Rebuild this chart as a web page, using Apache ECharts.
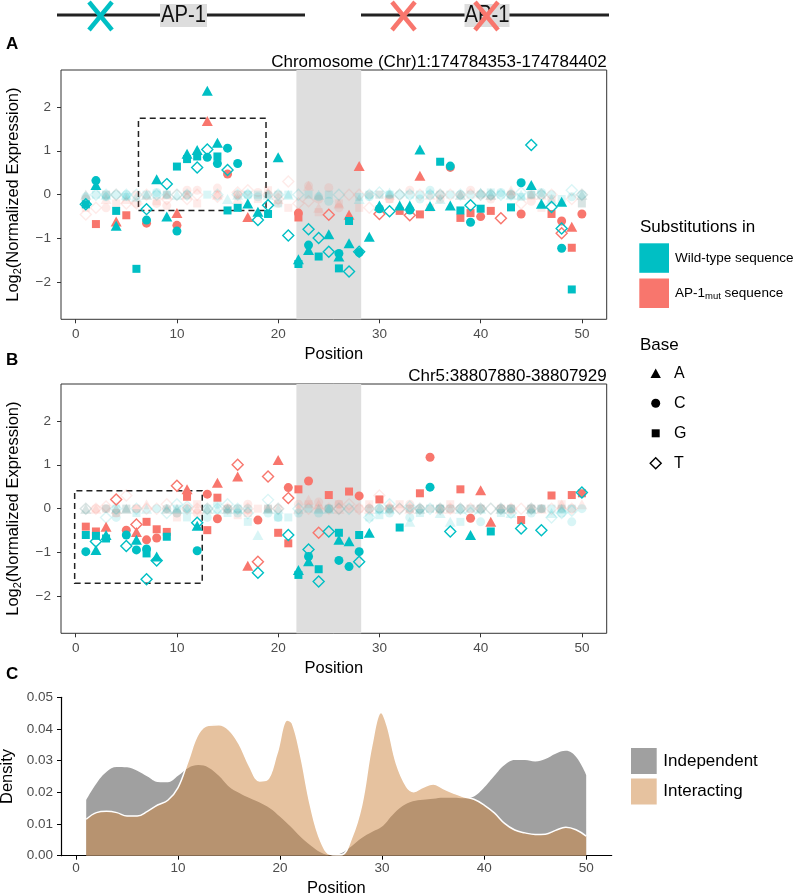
<!DOCTYPE html>
<html><head><meta charset="utf-8">
<script src="https://cdn.jsdelivr.net/npm/echarts@6/dist/echarts.min.js"></script>
<style>html,body{margin:0;padding:0;background:#fff}#c{width:796px;height:896px}</style>
</head><body><div id="c"></div><script>
// ---------- data ----------
const xTicks = [0, 10, 20, 30, 40, 50];
const yTicksExpr = [-2, -1, 0, 1, 2];
const yTicksDensity = [0, 0.01, 0.02, 0.03, 0.04, 0.05];
const ap1Band = [21.8, 28.2];
const boxA = [[6.2, -0.36], [18.8, 1.74]];
const boxB = [[-0.1, -1.7], [12.5, 0.41]];

// Panel A (Chr1) – significant substitutions [position, log2 expression]
const A_WT_A = [[2,0.22],[4,-0.71],[8,0.35],[9,-0.5],[11,0.93],[12,1.02],[13,2.37],[14,1.18],[17,-0.2],[18,-0.39],[20,0.85],[22,-1.47],[23,-1.26],[25,-0.9],[26,-1.41],[27,-1.11],[29,-0.96],[30,-0.25],[32,-0.25],[33,-0.25],[34,1.03],[35,-0.26],[37,-0.25],[45,0.22],[46,-0.21],[48,-0.16]];
const A_WT_C = [[2,0.32],[7,-0.58],[10,-0.83],[13,0.85],[14,0.71],[15,1.06],[16,0.71],[23,-1.15],[26,-1.34],[28,-1.32],[30,-0.32],[33,-0.35],[37,0.65],[39,-0.63],[44,0.27],[48,-1.22]];
const A_WT_G = [[1,-0.22],[4,-0.37],[6,-1.69],[10,0.64],[11,0.81],[12,0.87],[14,0.87],[15,-0.36],[16,-0.3],[19,-0.44],[22,-1.58],[24,-1.41],[26,-1.68],[27,-0.6],[36,0.75],[38,-0.36],[40,-0.32],[43,-0.29],[49,-2.16]];
const A_WT_T = [[1,-0.22],[7,-0.33],[9,0.24],[12,0.62],[13,1.03],[15,0.56],[18,-0.58],[19,-0.24],[21,-0.93],[23,-0.79],[24,-0.99],[25,-1.3],[27,-1.75],[28,-1.3],[31,-0.38],[39,-0.24],[45,1.13],[47,-0.28],[48,-0.77]];
const A_MUT_A = [[4,-0.61],[10,-0.42],[13,1.68],[17,-0.51],[27,-0.46],[28,0.65],[34,0.43],[49,-0.73]];
const A_MUT_C = [[7,-0.65],[10,-0.7],[15,0.47],[22,-0.42],[37,0.62],[40,-0.5],[44,-0.44],[48,-0.6],[50,-0.44]];
const A_MUT_G = [[2,-0.67],[5,-0.47],[22,-0.52],[32,-0.37],[34,-0.45],[38,-0.53],[39,-0.42],[41,-0.37],[47,-0.44],[49,-1.21]];
const A_MUT_T = [[25,-0.46],[30,-0.44],[33,-0.47],[42,-0.54],[48,-0.88]];
// Panel A – non-significant substitutions
const A_WT_A_ns = [[1,0],[3,0],[5,0],[6,-0.05],[7,0],[10,0],[15,-0.1],[16,0],[19,0],[21,0],[24,0],[28,-0.1],[31,0.05],[36,-0.1],[38,0],[40,0.05],[41,0],[43,0],[44,0],[47,-0.1],[50,0]];
const A_WT_C_ns = [[1,-0.05],[3,-0.05],[4,0],[5,0],[8,0.05],[9,0],[11,0],[17,0],[18,-0.05],[19,0],[20,0],[24,-0.05],[25,-0.15],[29,-0.05],[31,0],[32,0],[34,-0.1],[35,0.1],[36,0],[38,0],[40,0],[41,0],[42,0.05],[43,0],[45,0],[46,0.05],[47,0],[49,-0.05],[50,0]];
const A_WT_G_ns = [[2,0],[3,0],[5,-0.05],[7,0],[8,0],[9,0],[13,0],[17,0],[18,0],[20,-0.2],[21,0],[23,0],[25,0],[28,-0.05],[29,0],[30,0],[31,0],[33,0],[34,0],[35,0],[37,0],[39,0],[41,0.05],[42,0],[44,-0.05],[45,0],[46,0],[48,-0.1],[50,-0.2]];
const A_WT_T_ns = [[2,0],[3,0],[4,0],[5,0],[6,0],[8,0],[10,0],[11,0],[14,0],[16,0],[17,0],[20,0],[22,0],[26,0],[29,0],[30,0.05],[32,0],[33,0],[35,0],[36,0],[38,0],[40,0],[41,0],[42,0],[43,0],[44,0.05],[46,0],[49,0.1],[50,0]];
const A_MUT_A_ns = [[1,0],[3,-0.1],[5,-0.1],[7,0],[9,0],[11,0],[14,0],[16,-0.1],[19,0.05],[20,-0.1],[23,0.2],[24,-0.3],[26,-0.2],[31,0],[35,0],[38,0],[41,0],[43,0.1],[45,0],[46,0],[50,0]];
const A_MUT_C_ns = [[1,-0.1],[3,-0.3],[6,-0.2],[8,-0.2],[9,-0.25],[11,0.1],[12,0.1],[14,0.15],[16,0],[18,0.05],[20,-0.2],[23,0.2],[24,-0.1],[25,0.16],[26,-0.3],[29,0],[31,-0.1],[33,0.1],[36,-0.1],[38,0],[39,0.1],[41,-0.1],[43,0],[45,-0.15],[47,-0.1]];
const A_MUT_G_ns = [[1,-0.3],[3,0],[4,-0.2],[6,0],[8,-0.15],[9,0],[11,0],[12,-0.2],[14,0],[16,0],[18,-0.1],[19,0.1],[20,0],[21,-0.3],[24,-0.4],[26,-0.2],[28,-0.3],[30,0],[31,-0.1],[35,-0.3],[36,0],[40,0],[43,0],[45,0],[46,-0.3],[50,-0.2]];
const A_MUT_T_ns = [[1,-0.45],[2,-0.3],[4,0],[5,-0.2],[6,-0.2],[7,0],[9,-0.1],[10,0],[11,-0.1],[12,0],[14,-0.05],[16,0.05],[17,0.1],[19,0],[20,-0.1],[21,0.3],[22,-0.2],[23,-0.15],[27,0],[28,0],[29,-0.3],[32,0],[34,0],[36,0],[37,0],[39,0],[40,0],[41,0],[44,-0.2],[46,0],[47,0],[49,-0.1],[50,0]];

// Panel B (Chr5) – significant substitutions
const B_WT_A = [[2,-0.94],[3,-0.6],[6,-0.71],[8,-1.09],[12,-0.39],[22,-1.4],[23,-1.2],[26,-0.71],[27,-0.74],[29,-0.55],[39,-0.6]];
const B_WT_C = [[1,-0.98],[5,-0.6],[6,-0.94],[7,-0.92],[12,-0.96],[23,-1.09],[26,-1.18],[27,-1.32],[28,-0.98],[35,0.49]];
const B_WT_G = [[1,-0.6],[2,-0.62],[3,-0.68],[7,-1.02],[9,-0.64],[22,-1.51],[24,-1.38],[26,-0.55],[28,-0.6],[32,-0.43],[41,-0.52]];
const B_WT_T = [[2,-0.75],[5,-0.85],[7,-1.61],[8,-1.18],[12,-0.32],[18,-1.46],[21,-0.6],[23,-0.93],[24,-1.66],[25,-0.52],[28,-1.21],[37,-0.52],[44,-0.45],[46,-0.49],[50,0.37]];
const B_MUT_A = [[3,-0.41],[6,-0.53],[11,0.44],[14,0.59],[16,0.73],[17,-1.3],[20,1.11],[40,0.42],[41,-0.3]];
const B_MUT_C = [[5,-0.49],[7,-0.71],[8,-0.67],[13,0.33],[14,-0.23],[18,-0.26],[21,0.48],[23,0.63],[28,0.29],[35,1.17],[39,-0.22]];
const B_MUT_G = [[1,-0.41],[2,-0.52],[7,-0.3],[8,-0.47],[9,-0.53],[11,0.27],[13,-0.49],[14,0.25],[20,-0.55],[21,-0.79],[22,0.44],[25,0.31],[27,0.39],[30,0.21],[34,0.35],[38,0.44],[44,-0.26],[47,0.3],[49,0.31],[50,0.35]];
const B_MUT_T = [[4,0.21],[6,-0.36],[10,0.52],[16,1.0],[18,-1.21],[19,0.73],[21,0.24],[24,-0.55]];
// Panel B – non-significant substitutions
const B_WT_A_ns = [[1,0],[4,0],[5,0],[7,0],[9,0],[10,0],[11,0],[13,0],[14,0],[15,0],[16,0],[18,-0.6],[19,0],[20,0],[24,0],[25,0],[30,0],[31,0],[33,-0.3],[34,0],[36,-0.1],[37,-0.3],[38,0],[40,0],[42,0],[43,-0.1],[45,0],[47,-0.1],[48,0]];
const B_WT_C_ns = [[3,0],[4,-0.2],[8,0],[9,0],[10,-0.1],[11,0],[13,-0.2],[14,0.1],[15,0],[16,-0.1],[17,0],[19,-0.1],[20,-0.2],[22,-0.1],[24,-0.1],[25,0],[29,0],[30,0],[31,-0.1],[33,-0.2],[34,0],[36,0],[38,0],[40,-0.3],[42,0],[43,0],[45,-0.1],[46,0],[48,-0.1],[49,-0.3],[50,0]];
const B_WT_G_ns = [[4,0],[5,0],[6,-0.1],[10,0],[11,-0.2],[13,0],[15,-0.1],[16,0],[17,-0.3],[19,0],[20,-0.2],[21,-0.2],[23,0],[25,0],[29,-0.2],[30,-0.15],[31,0],[33,0],[34,-0.1],[35,0],[36,0],[37,0],[38,-0.3],[39,0],[40,0],[42,-0.1],[43,0],[45,0],[46,0],[47,0],[48,0],[49,0]];
const B_WT_T_ns = [[1,0],[3,-0.2],[4,0],[6,0],[9,-0.1],[10,0.1],[11,0.05],[13,0],[14,0],[15,0.1],[16,0],[17,-0.1],[19,0.2],[20,0],[22,0],[26,0],[27,0],[29,-0.2],[30,0],[31,0.1],[32,0],[33,0.05],[34,0],[35,0],[36,0],[38,0],[39,-0.1],[40,0],[41,0],[42,0],[43,-0.1],[45,0],[47,-0.2],[48,-0.1],[49,-0.05]];
const B_MUT_A_ns = [[1,0],[2,0],[4,0],[5,0],[7,0.1],[9,0],[10,0],[12,0],[13,0],[15,0],[17,0],[19,0],[22,0],[23,0.2],[24,0.1],[26,0],[29,0],[31,0.1],[33,0],[34,0],[36,0],[37,0],[42,0],[43,0],[45,0],[46,0],[48,0.1],[50,0.1]];
const B_MUT_C_ns = [[2,0],[3,0],[4,-0.1],[6,0],[9,0],[10,-0.1],[11,0],[12,-0.1],[15,0],[16,0],[17,0.1],[19,0],[20,0],[22,0.1],[24,0.15],[25,0],[26,0.1],[27,0],[29,0],[30,0],[31,0],[32,0],[33,0.1],[34,0],[36,0],[37,0],[38,0],[40,0],[42,0],[43,0],[45,0],[46,0],[48,0],[49,0]];
const B_MUT_G_ns = [[3,0],[4,-0.1],[5,0],[6,0],[10,-0.2],[12,0.1],[15,0],[16,-0.15],[17,-0.1],[18,0],[19,0],[23,0.1],[24,0],[26,0.1],[28,0],[29,0.1],[31,0],[32,0.1],[33,0],[35,0],[36,0],[37,0.1],[39,0],[40,0],[42,0],[43,0],[45,0],[46,0],[48,0.1]];
const B_MUT_T_ns = [[1,0],[2,0],[3,0.05],[5,0.3],[7,0],[8,0],[9,0.1],[11,0],[12,0],[13,0],[15,0],[17,0],[20,0],[23,0],[25,0],[26,0],[27,0.1],[28,0],[29,0],[30,0.3],[31,0],[32,0],[33,0],[34,0],[36,0],[37,0],[38,0],[39,0],[40,0],[41,0],[42,0],[43,0],[44,0],[45,0],[47,0],[49,0]];

// Panel C – density of positions
const independentDensity = [[1,0.0176],[2,0.0228],[3,0.0265],[4,0.0280],[5,0.0279],[6,0.0268],[7,0.0250],[8,0.0233],[9,0.0232],[10,0.0252],[11,0.0277],[12,0.0286],[13,0.0278],[14,0.0252],[15,0.0218],[16,0.0198],[17,0.0182],[18,0.0168],[19,0.0150],[20,0.0123],[21,0.0093],[22,0.0060],[23,0.0032],[24,0.0010],[25,0.0001],[26,0.0008],[27,0.0030],[28,0.0056],[29,0.0075],[30,0.0092],[31,0.0128],[32,0.0157],[33,0.0172],[34,0.0177],[35,0.0180],[36,0.0183],[37,0.0183],[38,0.0181],[39,0.0187],[40,0.0215],[41,0.0252],[42,0.0286],[43,0.0302],[44,0.0302],[45,0.0297],[46,0.0305],[47,0.0322],[48,0.0331],[49,0.0312],[50,0.0255]];
const interactingDensity = [[1,0.0115],[2,0.0136],[3,0.0140],[4,0.0136],[5,0.0125],[6,0.0125],[7,0.0140],[8,0.0160],[9,0.0175],[10,0.0215],[11,0.0300],[12,0.0385],[13,0.0412],[14,0.0413],[15,0.0397],[16,0.0352],[17,0.0283],[18,0.0236],[18.7,0.0239],[19.7,0.0323],[20.7,0.0428],[21.2,0.0418],[22,0.0318],[23,0.0155],[24,0.0045],[25,0.0004],[26,0.0003],[27,0.0055],[28,0.0160],[29,0.0350],[29.9,0.0452],[30.5,0.0410],[31.4,0.0291],[32.4,0.0218],[33.1,0.0202],[34,0.0216],[35,0.0226],[36,0.0212],[37,0.0198],[38,0.0186],[39,0.0178],[40,0.0160],[41,0.0135],[42,0.0102],[43,0.0081],[44,0.0072],[45,0.0067],[46,0.0068],[47,0.0080],[48,0.0090],[49,0.0082],[50,0.0062]];

// ---------- styling ----------
const FONT = '"Liberation Sans", Arial, Helvetica, sans-serif';
const TEAL = '#00BFC4', RED = '#F8766D';
const SYM = {A:'triangle', C:'circle', G:'rect', T:'diamond'};
const SIZE = {A:[11,10], C:9, G:8, T:11};
const FAINT = 0.15;

function pts(data, gi, base, color, faint) {
  const hollow = base === 'T';
  return {
    type: 'scatter', xAxisIndex: gi, yAxisIndex: gi, data: data,
    symbol: SYM[base], symbolSize: SIZE[base], silent: true, z: faint ? 2 : 3,
    itemStyle: hollow
      ? {color: 'rgba(0,0,0,0)', borderColor: color, borderWidth: 1.4, opacity: faint ? FAINT : 1}
      : {color: color, opacity: faint ? FAINT : 1}
  };
}
function markSeries(gi, box) {
  return {
    type: 'scatter', xAxisIndex: gi, yAxisIndex: gi, data: [], silent: true,
    markArea: {silent: true, label: {show: false}, data: [
      [{xAxis: ap1Band[0], itemStyle: {color: '#DEDEDE', borderWidth: 0}}, {xAxis: ap1Band[1]}],
      [{xAxis: box[0][0], yAxis: box[0][1], itemStyle: {color: 'rgba(0,0,0,0)', borderColor: '#222', borderWidth: 1.5, borderType: [6, 4]}},
       {xAxis: box[1][0], yAxis: box[1][1]}]
    ]}
  };
}
const minus = v => String(v).replace('-', '\u2212');
const tickLbl = {color: '#4d4d4d', fontSize: 13.5, fontFamily: FONT};
const nameStyle = {fontSize: 16.5, color: '#000', fontFamily: FONT};
const logName = {
  ...nameStyle,
  rich: {n: {fontSize: 16.5, color: '#000', fontFamily: FONT, lineHeight: 20},
         s: {fontSize: 11, color: '#000', fontFamily: FONT, lineHeight: 11, verticalAlign: 'bottom'}}
};
function xAx(gi, classic) {
  return {
    gridIndex: gi, type: 'value', min: classic ? -1.47 : -1.45, max: classic ? 52.5 : 52.45,
    axisLine: {show: classic, onZero: false, lineStyle: {color: '#000', width: 1.2}},
    splitLine: {show: false},
    axisTick: {customValues: xTicks, length: 4, lineStyle: {color: classic ? '#000' : '#333'}},
    axisLabel: {customValues: xTicks, margin: classic ? 6 : 8, ...tickLbl},
    name: 'Position', nameLocation: 'middle', nameGap: classic ? 24 : 27, nameTextStyle: nameStyle
  };
}
function yAx(gi) {
  return {
    gridIndex: gi, type: 'value', min: -2.84, max: 2.84,
    axisLine: {show: false, onZero: false}, splitLine: {show: false},
    axisTick: {customValues: yTicksExpr, length: 4, lineStyle: {color: '#333'}},
    axisLabel: {customValues: yTicksExpr, margin: 10, formatter: minus, ...tickLbl},
    name: '{n|Log}{s|2}{n|(Normalized Expression)}', nameLocation: 'middle', nameGap: 38,
    nameTextStyle: logName
  };
}

const series = [
  markSeries(0, boxA), markSeries(1, boxB),
  // faint points
  pts(A_MUT_A_ns,0,'A',RED,true), pts(A_MUT_C_ns,0,'C',RED,true), pts(A_MUT_G_ns,0,'G',RED,true), pts(A_MUT_T_ns,0,'T',RED,true),
  pts(A_WT_A_ns,0,'A',TEAL,true), pts(A_WT_C_ns,0,'C',TEAL,true), pts(A_WT_G_ns,0,'G',TEAL,true), pts(A_WT_T_ns,0,'T',TEAL,true),
  pts(B_MUT_A_ns,1,'A',RED,true), pts(B_MUT_C_ns,1,'C',RED,true), pts(B_MUT_G_ns,1,'G',RED,true), pts(B_MUT_T_ns,1,'T',RED,true),
  pts(B_WT_A_ns,1,'A',TEAL,true), pts(B_WT_C_ns,1,'C',TEAL,true), pts(B_WT_G_ns,1,'G',TEAL,true), pts(B_WT_T_ns,1,'T',TEAL,true),
  // significant points
  pts(A_MUT_A,0,'A',RED), pts(A_MUT_C,0,'C',RED), pts(A_MUT_G,0,'G',RED), pts(A_MUT_T,0,'T',RED),
  pts(A_WT_A,0,'A',TEAL), pts(A_WT_C,0,'C',TEAL), pts(A_WT_G,0,'G',TEAL), pts(A_WT_T,0,'T',TEAL),
  pts(B_MUT_A,1,'A',RED), pts(B_MUT_C,1,'C',RED), pts(B_MUT_G,1,'G',RED), pts(B_MUT_T,1,'T',RED),
  pts(B_WT_A,1,'A',TEAL), pts(B_WT_C,1,'C',TEAL), pts(B_WT_G,1,'G',TEAL), pts(B_WT_T,1,'T',TEAL),
  // densities
  {type: 'line', xAxisIndex: 2, yAxisIndex: 2, data: independentDensity, smooth: 0.4, symbol: 'none', silent: true, z: 2,
   lineStyle: {width: 0}, areaStyle: {color: '#A0A0A0', opacity: 1}},
  {type: 'line', xAxisIndex: 2, yAxisIndex: 2, data: interactingDensity, smooth: 0.4, symbol: 'none', silent: true, z: 3,
   lineStyle: {width: 1.5, color: '#FFFFFF'}, areaStyle: {color: 'rgba(205,133,63,0.5)', opacity: 1}}
];

// ---------- decorations / legends ----------
const T = (x, y, text, size, extra, z) => ({type: 'text', x: x, y: y, z: z || 10,
  style: Object.assign({text: text, fill: '#000', fontSize: size, fontFamily: FONT, align: 'left', verticalAlign: 'middle'}, extra || {})});
const L = (x1, y1, x2, y2, color, w, z) => ({type: 'line', z: z || 10, shape: {x1, y1, x2, y2}, style: {stroke: color, lineWidth: w}});
const ap1Label = (x) => ({type: 'text', x: x, y: 16, z: 12, scaleX: 0.88,
  style: {text: 'AP-1', fill: '#111', fontSize: 23, fontFamily: FONT, align: 'center', verticalAlign: 'middle'}});
const graphic = [
  // schematic
  L(57, 15, 305, 15, '#222', 3),
  {type: 'rect', z: 11, shape: {x: 160, y: 4, width: 47, height: 23}, style: {fill: '#DDDDDD'}},
  ap1Label(183.5),
  L(89, 2, 112, 30, TEAL, 4.5, 13), L(112, 2, 89, 30, TEAL, 4.5, 13),
  L(361, 15, 609, 15, '#222', 3),
  {type: 'rect', z: 11, shape: {x: 464.5, y: 4, width: 45, height: 23}, style: {fill: '#DDDDDD'}},
  ap1Label(487),
  L(392, 2, 415, 30, RED, 4.5, 13), L(415, 2, 392, 30, RED, 4.5, 13),
  L(475, 2, 498, 30, RED, 4.5, 13), L(498, 2, 475, 30, RED, 4.5, 13),
  // panel tags and titles
  T(6, 44, 'A', 17, {fontWeight: 'bold'}),
  T(6, 360, 'B', 17, {fontWeight: 'bold'}),
  T(6, 674, 'C', 17, {fontWeight: 'bold'}),
  T(606.7, 62, 'Chromosome (Chr)1:174784353-174784402', 17, {align: 'right'}),
  T(606.7, 376, 'Chr5:38807880-38807929', 17, {align: 'right'}),
  // substitution legend
  T(640, 227, 'Substitutions in', 17),
  {type: 'rect', z: 10, shape: {x: 639.3, y: 243.3, width: 29.7, height: 29.5}, style: {fill: TEAL}},
  {type: 'rect', z: 10, shape: {x: 639.3, y: 278.5, width: 29.7, height: 29.5}, style: {fill: RED}},
  T(675, 258, 'Wild-type sequence', 13.5),
  T(675, 293, '{a|AP-1}{s|mut}{a| sequence}', 13.5, {rich: {
    a: {fontSize: 13.5, fontFamily: FONT, fill: '#000', lineHeight: 16},
    s: {fontSize: 9.5, fontFamily: FONT, fill: '#000', lineHeight: 9.5, verticalAlign: 'bottom'}}}),
  // base legend
  T(640, 345, 'Base', 17),
  {type: 'polygon', z: 10, shape: {points: [[650.5, 378], [660.9, 378], [655.7, 368.5]]}, style: {fill: '#000'}},
  {type: 'circle', z: 10, shape: {cx: 655.7, cy: 403.3, r: 4.5}, style: {fill: '#000'}},
  {type: 'rect', z: 10, shape: {x: 651.7, y: 429.3, width: 8, height: 8}, style: {fill: '#000'}},
  {type: 'polygon', z: 10, shape: {points: [[655.7, 457.8], [661.2, 463.3], [655.7, 468.8], [650.2, 463.3]]}, style: {fill: 'none', stroke: '#000', lineWidth: 1.4}},
  T(674, 373.3, 'A', 16), T(674, 403.3, 'C', 16), T(674, 433.3, 'G', 16), T(674, 463.3, 'T', 16),
  // density legend
  {type: 'rect', z: 10, shape: {x: 631, y: 748, width: 25.7, height: 26}, style: {fill: '#A0A0A0'}},
  {type: 'rect', z: 10, shape: {x: 631, y: 778.5, width: 25.7, height: 26}, style: {fill: 'rgba(205,133,63,0.5)'}},
  T(663.3, 761, 'Independent', 17), T(663.3, 791.5, 'Interacting', 17)
];

const chart = echarts.init(document.getElementById('c'), null, {renderer: 'canvas'});
chart.setOption({
  animation: false,
  backgroundColor: '#fff',
  grid: [
    {left: 61, top: 70, width: 545.7, height: 249.3, show: true, borderColor: '#333', borderWidth: 1, backgroundColor: 'rgba(0,0,0,0)', outerBoundsMode: 'none', containLabel: false},
    {left: 61, top: 384, width: 545.7, height: 249.3, show: true, borderColor: '#333', borderWidth: 1, backgroundColor: 'rgba(0,0,0,0)', outerBoundsMode: 'none', containLabel: false},
    {left: 61, top: 697.3, width: 550.7, height: 158.4, show: false, outerBoundsMode: 'none', containLabel: false}
  ],
  xAxis: [xAx(0, false), xAx(1, false), xAx(2, true)],
  yAxis: [yAx(0), yAx(1), {
    gridIndex: 2, type: 'value', min: 0, max: 0.05,
    axisLine: {show: true, onZero: false, lineStyle: {color: '#000', width: 1.2}}, splitLine: {show: false},
    axisTick: {customValues: yTicksDensity, length: 4, lineStyle: {color: '#000'}},
    axisLabel: {customValues: yTicksDensity, margin: 8, formatter: v => v.toFixed(2), ...tickLbl},
    name: 'Density', nameLocation: 'middle', nameGap: 40, nameTextStyle: nameStyle
  }],
  series: series,
  graphic: graphic
});
</script></body></html>
